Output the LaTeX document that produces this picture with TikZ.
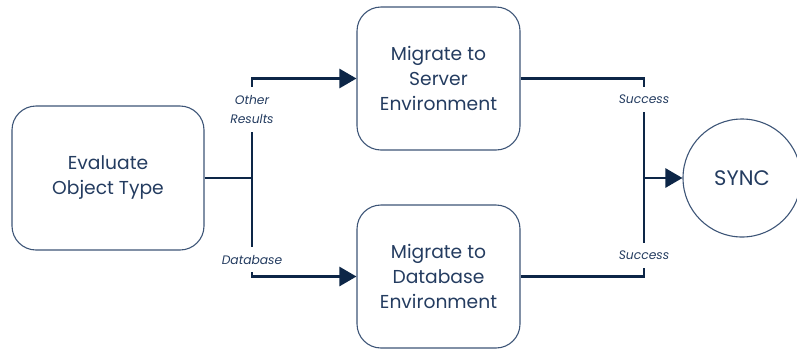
\documentclass[tikz,border=0pt]{standalone}
\usepackage{fontspec}
\setmainfont{Poppins}
\usepackage{tikz}
\usetikzlibrary{arrows.meta,positioning,shapes.geometric}
\definecolor{cline}{HTML}{0D2647}
\definecolor{cedge}{HTML}{3D5577}
\definecolor{ctext}{HTML}{243C60}
\tikzset{
  box/.style={draw=cedge, line width=1.1pt, rounded corners=24pt, align=center, text=ctext, font=\fontsize{18.7}{25}\selectfont},
  stepbox/.style={box, minimum width=163pt, minimum height=143pt},
  evalbox/.style={box, minimum width=192pt, minimum height=144pt},
  syncn/.style={circle, draw=cedge, line width=1.1pt, minimum size=118pt, inner sep=0pt, text=ctext, font=\fontsize{21}{24}\selectfont},
  lbl/.style={align=center, text=ctext, inner sep=0pt, font=\fontsize{12.3}{19}\selectfont\itshape},
  wire/.style={draw=cline, line width=2.6pt},
  pre/.style={wire, -{Triangle[length=17pt,width=19pt]}},
}
\begin{document}
\begin{tikzpicture}[x=1pt,y=-1pt]
\useasboundingbox (0,0) rectangle (797,349);
\node[evalbox] (eval) at (108,178) {Evaluate\\Object Type};
\node[stepbox] (server) at (438.5,78.5) {Migrate to\\Server\\Environment};
\node[stepbox] (db) at (438.5,276.5) {Migrate to\\Database\\Environment};
\node[syncn] (sync) at (742,178) {SYNC};
% branch labels
\node[lbl, minimum height=45pt] (other) at (252,109.5) {Other\\Results};
\node[lbl, minimum height=25pt] (dbl) at (252,259.5) {Database};
\node[lbl, minimum height=25pt] (succa) at (644,99.5) {Success};
\node[lbl, minimum height=25pt] (succb) at (644,255.5) {Success};
\coordinate (jl) at (252,178);
\coordinate (jr) at (644,178);
% left fork
\draw[wire] (eval.east) -- (jl);
\draw[wire] (other.south) -- (dbl.north);
\draw[pre] (other.north) |- (server.west);
\draw[pre] (dbl.south) |- (db.west);
% right join
\draw[wire] (server.east) -| (succa.north);
\draw[wire] (succa.south) -- (succb.north);
\draw[wire] (db.east) -| (succb.south);
\draw[pre] (jr) -- (sync.west);
\end{tikzpicture}
\end{document}
